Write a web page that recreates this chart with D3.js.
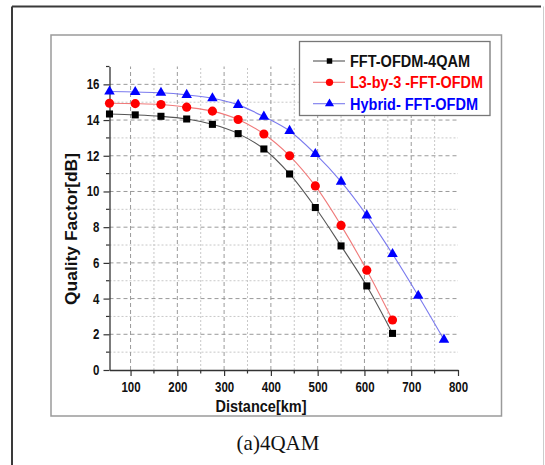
<!DOCTYPE html>
<html><head><meta charset="utf-8">
<script src="https://cdn.jsdelivr.net/npm/d3@7"></script>
<style>html,body{margin:0;padding:0;background:#fff;}svg{display:block;}</style>
</head><body>
<script>
const distances = [55,110,165,220,275,330,385,440,495,550,605,660,715,770];
const fft4qam = [14.34,14.29,14.21,14.06,13.76,13.24,12.38,10.98,9.1,6.95,4.71,2.05];
const l3by3 = [14.94,14.92,14.87,14.72,14.50,14.03,13.22,12.0,10.31,8.1,5.59,2.8];
const hybrid = [15.6,15.57,15.53,15.41,15.22,14.85,14.19,13.39,12.1,10.55,8.66,6.5,4.16,1.70];
const seriesNames = ["FFT-OFDM-4QAM","L3-by-3 -FFT-OFDM","Hybrid- FFT-OFDM"];
const xTicks = [100,200,300,400,500,600,700,800];
const yTicks = [0,2,4,6,8,10,12,14,16];
const xLabel = "Distance[km]", yLabel = "Quality Factor[dB]", caption = "(a)4QAM";

const W=545,H=465;
const svg=d3.select("body").append("svg").attr("width",W).attr("height",H);
const x=d3.scaleLinear().domain([55,800]).range([109.5,458]);
const y=d3.scaleLinear().domain([0,17]).range([370,66.5]);
const F="Liberation Sans, Arial, sans-serif";

// outer frame
svg.append("line").attr("x1",12).attr("y1",6.5).attr("x2",541).attr("y2",6.5).attr("stroke","#3a3a3a").attr("stroke-width",2);
svg.append("line").attr("x1",12).attr("y1",6.5).attr("x2",12).attr("y2",H).attr("stroke","#3a3a3a").attr("stroke-width",2);
svg.append("line").attr("x1",543.5).attr("y1",6.5).attr("x2",543.5).attr("y2",H).attr("stroke","#ccc").attr("stroke-width",1);
// inner frame
svg.append("rect").attr("x",51).attr("y",35).attr("width",450.5).attr("height",381).attr("fill","none").attr("stroke","#9a9a9a").attr("stroke-width",1.5);

// grid
const g=svg.append("g");
const xMinor=d3.range(150,800,100), yMinor=d3.range(1,17,2);
g.selectAll(".gxm").data(xMinor).join("line").attr("x1",d=>x(d)).attr("x2",d=>x(d)).attr("y1",y(0)).attr("y2",y(17))
 .attr("stroke","#c8c8c8").attr("stroke-dasharray","2,2");
g.selectAll(".gym").data(yMinor).join("line").attr("y1",d=>y(d)).attr("y2",d=>y(d)).attr("x1",x(55)).attr("x2",x(800))
 .attr("stroke","#c8c8c8").attr("stroke-dasharray","2,2");
g.selectAll(".gx").data(xTicks.filter(d=>d<800)).join("line").attr("x1",d=>x(d)).attr("x2",d=>x(d)).attr("y1",y(0)).attr("y2",y(17))
 .attr("stroke","#9a9a9a").attr("stroke-dasharray","4,3");
g.selectAll(".gy").data(yTicks.filter(d=>d>0)).join("line").attr("y1",d=>y(d)).attr("y2",d=>y(d)).attr("x1",x(55)).attr("x2",x(800))
 .attr("stroke","#9a9a9a").attr("stroke-dasharray","4,3");

// axes
function compress(sel,f){sel.each(function(){const w=this.getComputedTextLength();d3.select(this).attr("textLength",w*f).attr("lengthAdjust","spacingAndGlyphs");});}
const xa=svg.append("g").attr("transform",`translate(0,${y(0)})`)
 .call(d3.axisBottom(x).tickValues(xTicks).tickSize(6).tickPadding(6).tickSizeOuter(0));
xa.select(".domain").attr("stroke","#333").attr("stroke-width",1.3);
xa.selectAll(".tick line").attr("stroke","#333").attr("stroke-width",1.2);
xa.selectAll("text").attr("font-family",F).attr("font-size",14).attr("font-weight","bold").attr("fill","#111").attr("dy","0.71em").call(compress,0.82);
svg.append("g").attr("transform",`translate(0,${y(0)})`).selectAll("line").data(xMinor).join("line")
 .attr("x1",d=>x(d)).attr("x2",d=>x(d)).attr("y1",0).attr("y2",3.5).attr("stroke","#333").attr("stroke-width",1.2);

const ya=svg.append("g").attr("transform",`translate(${x(55)},0)`)
 .call(d3.axisLeft(y).tickValues(yTicks).tickSize(6).tickPadding(4).tickSizeOuter(0));
ya.select(".domain").attr("stroke","#333").attr("stroke-width",1.3);
ya.selectAll(".tick line").attr("stroke","#333").attr("stroke-width",1.2);
ya.selectAll("text").attr("font-family",F).attr("font-size",14).attr("font-weight","bold").attr("fill","#111").call(compress,0.82);
svg.append("g").attr("transform",`translate(${x(55)},0)`).selectAll("line").data(yMinor.concat([17])).join("line")
 .attr("y1",d=>y(d)).attr("y2",d=>y(d)).attr("x1",0).attr("x2",-3.5).attr("stroke","#333").attr("stroke-width",1.2);

svg.append("text").attr("x",261).attr("y",412).attr("text-anchor","middle").attr("font-family",F).attr("font-size",16.5)
 .attr("font-weight","bold").attr("fill","#111").text(xLabel).attr("textLength",91).attr("lengthAdjust","spacingAndGlyphs");
svg.append("text").attr("transform","translate(77,229) rotate(-90)").attr("text-anchor","middle").attr("font-family",F)
 .attr("font-size",17).attr("font-weight","bold").attr("fill","#111").text(yLabel).attr("textLength",152).attr("lengthAdjust","spacingAndGlyphs");

// series
const series=[
 {name:seriesNames[0],vals:fft4qam,line:"#555",mark:"#000",sym:d3.symbolSquare,size:50,lsize:30},
 {name:seriesNames[1],vals:l3by3,line:"#f07a7a",mark:"#ff0000",sym:d3.symbolCircle,size:66,lsize:42},
 {name:seriesNames[2],vals:hybrid,line:"#7a7aee",mark:"#0000ff",sym:d3.symbolTriangle,size:48,lsize:36}
];
const lineGen=d3.line().x(d=>x(d[0])).y(d=>y(d[1])).curve(d3.curveCatmullRom);
series.forEach(s=>{
 const pts=s.vals.map((v,i)=>[distances[i],v]);
 svg.append("path").attr("d",lineGen(pts)).attr("fill","none").attr("stroke",s.line).attr("stroke-width",1.1);
 svg.append("g").selectAll("path").data(pts).join("path").attr("d",d3.symbol(s.sym,s.size)())
  .attr("transform",d=>`translate(${x(d[0])},${y(d[1])})`).attr("fill",s.mark);
});

// legend
svg.append("rect").attr("x",299.5).attr("y",41.5).attr("width",190.5).attr("height",74).attr("fill","#fff").attr("stroke","#777").attr("stroke-width",1.3);
const lens=[120,133,128], rows=[61,82.3,103.7], tcol=["#111","#ff0000","#0000ff"];
series.forEach((s,i)=>{
 svg.append("line").attr("x1",313).attr("x2",345).attr("y1",rows[i]).attr("y2",rows[i]).attr("stroke",s.line).attr("stroke-width",1.1);
 svg.append("path").attr("d",d3.symbol(s.sym,s.lsize)()).attr("transform",`translate(329.5,${rows[i]})`).attr("fill",s.mark);
 svg.append("text").attr("x",350).attr("y",rows[i]+5.8).attr("font-family",F).attr("font-size",16).attr("font-weight","bold")
  .attr("fill",tcol[i]).text(s.name).attr("textLength",lens[i]).attr("lengthAdjust","spacingAndGlyphs");
});

svg.append("text").attr("x",278).attr("y",449.5).attr("text-anchor","middle").attr("font-family","Liberation Serif, Times New Roman, serif")
 .attr("font-size",21).attr("fill","#111").text(caption);
</script>
</body></html>
